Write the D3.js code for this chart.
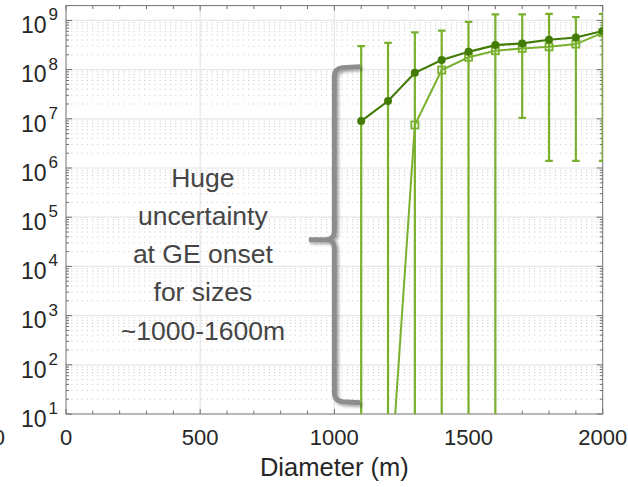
<!DOCTYPE html>
<html>
<head>
<meta charset="utf-8">
<script src="https://cdn.jsdelivr.net/npm/d3@7"></script>
<style>
  body { margin: 0; background: #fff; }
  text { font-family: "Liberation Sans", Arial, Helvetica, sans-serif; }
</style>
</head>
<body>
<script>
// diameters (m)
const diameters = [1100, 1200, 1300, 1400, 1500, 1600, 1700, 1800, 1900, 2000];
// dark series (filled circles)
const seriesA = [9.0e6, 2.3e7, 8.6e7, 1.57e8, 2.3e8, 3.15e8, 3.4e8, 4.05e8, 4.5e8, 6.1e8];
// light series (open squares) with error bars
const seriesB = [0.02, 0.07, 7.5e6, 9.8e7, 1.78e8, 2.42e8, 2.7e8, 2.9e8, 3.3e8, 5.6e8];
const errHigh = [3.0e8, 3.5e8, 5.7e8, 6.2e8, 9.3e8, 1.33e9, 1.33e9, 1.36e9, 1.17e9, 1.36e9];
const errLow = [0.1, 0.1, 0.1, 0.1, 0.1, 0.1, 1.04e7, 1.39e6, 1.39e6, 1.39e6];

const xTicks = [0, 500, 1000, 1500, 2000];
const yExps = [1, 2, 3, 4, 5, 6, 7, 8, 9];
const noteLines = ["Huge", "uncertainty", "at GE onset", "for sizes", "~1000-1600m"];

const W = 628, H = 487;
const pL = 66, pR = 602.7, pT = 5.6, pB = 414;

const darkGreen = "#427c06";
const lightGreen = "#79b12f";

const svg = d3.select("body").append("svg").attr("width", W).attr("height", H);

const x = d3.scaleLinear().domain([0, 2000]).range([pL, pR]);
const y = d3.scaleLog().domain([10, 2e9]).range([pB, pT]);

const defs = svg.append("defs");
defs.append("clipPath").attr("id", "plot")
  .append("rect").attr("x", pL).attr("y", pT)
  .attr("width", pR - pL).attr("height", pB - pT);

const shadow = defs.append("filter").attr("id", "shadow")
  .attr("x", "-50%").attr("y", "-10%").attr("width", "200%").attr("height", "120%");
shadow.append("feGaussianBlur").attr("in", "SourceAlpha").attr("stdDeviation", 1.5);
shadow.append("feOffset").attr("dx", 1.5).attr("dy", 2).attr("result", "off");
shadow.append("feComponentTransfer").append("feFuncA").attr("type", "linear").attr("slope", 0.35);
const merge = shadow.append("feMerge");
merge.append("feMergeNode");
merge.append("feMergeNode").attr("in", "SourceGraphic");

// grid
const grid = svg.append("g");
const minorY = [];
yExps.forEach(e => {
  for (let m = 2; m <= 9; m++) {
    const v = m * Math.pow(10, e);
    if (v <= 2e9) minorY.push(v);
  }
});
grid.selectAll(".minor").data(minorY.filter(v => v < 2e9)).enter().append("line")
  .attr("x1", pL).attr("x2", pR)
  .attr("y1", d => y(d)).attr("y2", d => y(d))
  .attr("stroke", "#cdcdcd").attr("stroke-width", 1).attr("stroke-dasharray", "1.2,4");
grid.selectAll(".major").data(yExps.slice(1)).enter().append("line")
  .attr("x1", pL).attr("x2", pR)
  .attr("y1", d => y(Math.pow(10, d))).attr("y2", d => y(Math.pow(10, d)))
  .attr("stroke", "#e6e6e6").attr("stroke-width", 1.2);
grid.selectAll(".xg").data([500, 1000, 1500]).enter().append("line")
  .attr("x1", d => x(d)).attr("x2", d => x(d))
  .attr("y1", pT).attr("y2", pB)
  .attr("stroke", "#e6e6e6").attr("stroke-width", 1.2);

// axis box and ticks
const axisCol = "#707070";
svg.append("rect").attr("x", pL).attr("y", pT)
  .attr("width", pR - pL).attr("height", pB - pT)
  .attr("fill", "none").attr("stroke", axisCol).attr("stroke-width", 1);

const xMinor = d3.range(0, 2001, 100);
const tk = svg.append("g").attr("stroke", axisCol).attr("stroke-width", 1);
xMinor.forEach(v => {
  const len = v % 500 === 0 ? 5 : 3.5;
  tk.append("line").attr("x1", x(v)).attr("x2", x(v)).attr("y1", pB).attr("y2", pB - len);
  tk.append("line").attr("x1", x(v)).attr("x2", x(v)).attr("y1", pT).attr("y2", pT + len);
});
minorY.forEach(v => {
  tk.append("line").attr("x1", pL).attr("x2", pL + 3).attr("y1", y(v)).attr("y2", y(v));
  tk.append("line").attr("x1", pR).attr("x2", pR - 3).attr("y1", y(v)).attr("y2", y(v));
});
yExps.forEach(e => {
  const v = Math.pow(10, e);
  tk.append("line").attr("x1", pL).attr("x2", pL + 6).attr("y1", y(v)).attr("y2", y(v));
  tk.append("line").attr("x1", pR).attr("x2", pR - 6).attr("y1", y(v)).attr("y2", y(v));
});

// tick labels
svg.selectAll(".xl").data(xTicks).enter().append("text")
  .attr("x", d => x(d)).attr("y", 445)
  .attr("text-anchor", "middle").attr("font-size", 22).attr("fill", "#262626")
  .text(d => d);
// partially visible label at the left edge, as in the source image
svg.append("text").attr("x", 5).attr("y", 445).attr("text-anchor", "end")
  .attr("font-size", 22).attr("fill", "#262626").text("0");

const yl = svg.selectAll(".yl").data(yExps).enter().append("text")
  .attr("x", 58).attr("y", d => y(Math.pow(10, d)) + 12.7)
  .attr("text-anchor", "end").attr("font-size", 23).attr("fill", "#262626");
yl.append("tspan").text("10");
yl.append("tspan").attr("font-size", 17).attr("dx", 2).attr("dy", -12.7).text(d => d);

svg.append("text").attr("x", x(1000)).attr("y", 476)
  .attr("text-anchor", "middle").attr("font-size", 25.5).attr("fill", "#262626")
  .text("Diameter (m)");

// data
const plot = svg.append("g").attr("clip-path", "url(#plot)");

plot.selectAll(".eb").data(diameters).enter().append("line")
  .attr("x1", d => x(d)).attr("x2", d => x(d))
  .attr("y1", (d, i) => y(errHigh[i])).attr("y2", (d, i) => y(errLow[i]))
  .attr("stroke", lightGreen).attr("stroke-width", 2.2);
const capW = 3.8;
[errHigh, errLow].forEach(arr => {
  plot.append("g").selectAll("line").data(diameters).enter().append("line")
    .attr("x1", d => x(d) - capW).attr("x2", d => x(d) + capW)
    .attr("y1", (d, i) => y(arr[i])).attr("y2", (d, i) => y(arr[i]))
    .attr("stroke", lightGreen).attr("stroke-width", 2.2);
});

const lineB = d3.line().x((d, i) => x(diameters[i])).y(d => y(d));
plot.append("path").datum(seriesB).attr("d", lineB)
  .attr("fill", "none").attr("stroke", lightGreen).attr("stroke-width", 2);
plot.selectAll(".sq").data(seriesB).enter().append("rect")
  .attr("x", (d, i) => x(diameters[i]) - 3.5).attr("y", d => y(d) - 3.5)
  .attr("width", 7).attr("height", 7)
  .attr("fill", "none").attr("stroke", lightGreen).attr("stroke-width", 1.8);

plot.append("path").datum(seriesA).attr("d", lineB)
  .attr("fill", "none").attr("stroke", darkGreen).attr("stroke-width", 2.2);
plot.selectAll(".ci").data(seriesA).enter().append("circle")
  .attr("cx", (d, i) => x(diameters[i])).attr("cy", d => y(d)).attr("r", 4)
  .attr("fill", darkGreen);

// brace annotation
const bx = x(1000), bEnd = x(1100) - 1;
const bTop = y(1.15e8), bBot = y(17), bMid = y(3.5e4), bTip = x(905);
const r = 8;
const brace = `M${bEnd},${bTop} L${bx + r},${bTop + 1} Q${bx},${bTop + 2} ${bx},${bTop + r + 2}
  L${bx},${bMid - 8} Q${bx},${bMid - 1} ${bx - 8},${bMid} L${bTip},${bMid}
  M${bx - 8},${bMid} Q${bx},${bMid + 1} ${bx},${bMid + 8}
  L${bx},${bBot - r - 2} Q${bx},${bBot - 2} ${bx + r},${bBot - 1} L${bEnd},${bBot}`;
svg.append("path").attr("d", brace).attr("fill", "none")
  .attr("stroke", "#8d8d8d").attr("stroke-width", 5)
  .attr("stroke-linecap", "butt").attr("stroke-linejoin", "round")
  .attr("filter", "url(#shadow)");

// note text
svg.append("g").selectAll("text").data(noteLines).enter().append("text")
  .attr("x", x(510)).attr("y", (d, i) => 186.5 + i * 38.3)
  .attr("text-anchor", "middle").attr("font-size", 26.5).attr("fill", "#454545")
  .text(d => d);
</script>
</body>
</html>
